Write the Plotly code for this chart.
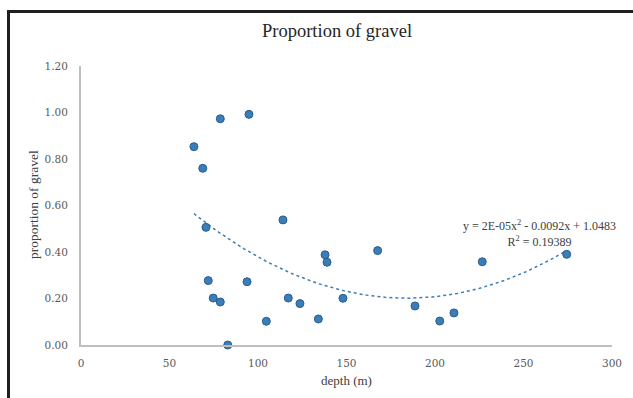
import numpy as np
import plotly.graph_objects as go

# Sample depths (m) and the proportion of gravel measured at each
depth = [63.8, 68.8, 70.6, 71.9, 74.7, 78.7, 78.7, 82.9, 93.8, 94.9, 104.7, 114.1,
         117.1, 123.7, 134.1, 137.9, 139.0, 148.0, 167.6, 188.7, 202.7, 210.7, 226.7, 274.4]
gravel = [0.853, 0.760, 0.506, 0.277, 0.202, 0.185, 0.973, 0.000, 0.272, 0.992, 0.102, 0.538,
          0.202, 0.178, 0.112, 0.388, 0.356, 0.201, 0.406, 0.168, 0.103, 0.138, 0.358, 0.390]

x_ticks = [0, 50, 100, 150, 200, 250, 300]
y_ticks = [0.0, 0.2, 0.4, 0.6, 0.8, 1.0, 1.2]

equation_text = "y = 2E-05x<sup>2</sup> - 0.0092x + 1.0483"
r2_text = "R<sup>2</sup> = 0.19389"

# second-order polynomial trendline fitted to the samples
coef = np.polyfit(depth, gravel, 2)
xs = np.linspace(min(depth), max(depth), 120)
ys = np.polyval(coef, xs)

W, H = 633, 398
L, R, T, B = 81, 21, 66, 53
pw, ph = W - L - R, H - T - B


def px_x(p):
    return (p - L) / pw


def px_y(p):
    return (H - B - p) / ph


serif = "Liberation Serif"
tick_font = dict(family="DejaVu Serif", size=10.5, color="#595959")

fig = go.Figure()
fig.add_trace(go.Scatter(
    x=xs, y=ys, mode="lines",
    line=dict(color="#3F7DB5", width=1.5, dash="dot"),
    hoverinfo="skip", showlegend=False,
))
fig.add_trace(go.Scatter(
    x=depth, y=gravel, mode="markers",
    marker=dict(size=8, color="#3A7DB8", line=dict(color="#2A5E8C", width=1)),
    cliponaxis=False, showlegend=False,
))

fig.update_layout(
    width=W, height=H,
    margin=dict(l=L, r=R, t=T, b=B),
    paper_bgcolor="white", plot_bgcolor="white",
    font=dict(family=serif, color="#595959", size=11),
    xaxis=dict(
        range=[0, 300], tickvals=x_ticks, ticktext=[str(v) for v in x_ticks],
        showgrid=False, zeroline=False, showline=True, linecolor="#BFBFBF", linewidth=2,
        ticks="", ticklabelstandoff=7, tickfont=tick_font,
    ),
    yaxis=dict(
        range=[0, 1.2], tickvals=y_ticks, ticktext=[f"{v:.2f}" for v in y_ticks],
        showgrid=False, zeroline=False, showline=True, linecolor="#BFBFBF", linewidth=2,
        ticks="", ticklabelstandoff=9, tickfont=tick_font,
    ),
    annotations=[
        dict(text="Proportion of gravel", x=px_x(337), y=px_y(31), xref="paper", yref="paper",
             showarrow=False, font=dict(family=serif, size=18.5, color="#262626"),
             xanchor="center", yanchor="middle"),
        dict(text="depth (m)", x=px_x(346), y=px_y(380), xref="paper", yref="paper",
             showarrow=False, font=dict(family=serif, size=13, color="#404040"),
             xanchor="center", yanchor="middle"),
        dict(text="proportion of gravel", x=px_x(33), y=px_y(205), xref="paper", yref="paper",
             showarrow=False, textangle=-90, font=dict(family=serif, size=13.5, color="#404040"),
             xanchor="center", yanchor="middle"),
        dict(text=equation_text + "<br>" + r2_text, x=px_x(539), y=px_y(233),
             xref="paper", yref="paper", showarrow=False, align="center",
             font=dict(family=serif, size=12, color="#404040"),
             xanchor="center", yanchor="middle"),
    ],
    shapes=[
        dict(type="line", xref="paper", yref="paper", x0=px_x(8.5), x1=px_x(8.5),
             y0=px_y(11), y1=px_y(H + 10), line=dict(color="#1E1E1E", width=3)),
        dict(type="line", xref="paper", yref="paper", x0=px_x(7), x1=px_x(W + 10),
             y0=px_y(11.5), y1=px_y(11.5), line=dict(color="#1E1E1E", width=3)),
    ],
)

fig.write_html("out.html")
